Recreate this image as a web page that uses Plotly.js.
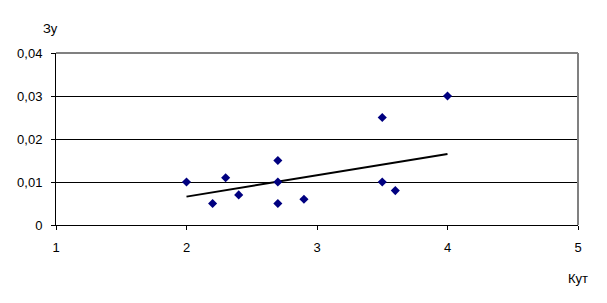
<!DOCTYPE html>
<html><head><meta charset="utf-8">
<script src="https://cdn.plot.ly/plotly-3.0.1.min.js"></script>
<style>html,body{margin:0;padding:0;background:#fff}#c{width:607px;height:303px}</style>
</head><body><div id="c"></div>
<script>
const kut = [2, 2.2, 2.3, 2.4, 2.7, 2.7, 2.7, 2.9, 3.5, 3.5, 3.6, 4];
const zu = [0.010, 0.005, 0.011, 0.007, 0.015, 0.010, 0.005, 0.006, 0.025, 0.010, 0.008, 0.030];
const trendX = [2, 4];
const trendY = [0.0066, 0.0165];
const yTickVals = [0, 0.01, 0.02, 0.03, 0.04];
const yTickText = ["0", "0,01", "0,02", "0,03", "0,04"];
const xTickVals = [1, 2, 3, 4, 5];
const xTickText = ["1", "2", "3", "4", "5"];

const font = {family: "Liberation Sans, Arial, sans-serif", size: 13, color: "#000"};
const data = [
  {x: trendX, y: trendY, mode: "lines", line: {color: "#000", width: 2}, hoverinfo: "skip", showlegend: false},
  {x: kut, y: zu, mode: "markers", marker: {symbol: "diamond", size: 7, color: "#000080"}, showlegend: false}
];
const layout = {
  width: 607, height: 303,
  margin: {l: 56, r: 29, t: 53, b: 78},
  paper_bgcolor: "#fff", plot_bgcolor: "#fff",
  font: font,
  showlegend: false,
  xaxis: {range: [1, 5], tickvals: xTickVals, ticktext: xTickText, ticks: "outside", ticklen: 4, tickcolor: "#000",
          ticklabelstandoff: 6,
          showgrid: false, zeroline: false, showline: true, linecolor: "#000", linewidth: 1, mirror: false, fixedrange: true},
  yaxis: {range: [0, 0.04], tickvals: yTickVals, ticktext: yTickText, ticks: "outside", ticklen: 4, tickcolor: "#000",
          ticklabelstandoff: 6,
          showgrid: true, gridcolor: "#000", gridwidth: 1, zeroline: false, showline: true, linecolor: "#000", linewidth: 1, fixedrange: true},
  shapes: [
    {type: "line", xref: "paper", yref: "paper", x0: 0, x1: 1, y0: 1, y1: 1, line: {color: "#808080", width: 2}},
    {type: "line", xref: "paper", yref: "paper", x0: 1, x1: 1, y0: 0, y1: 1, line: {color: "#808080", width: 2}}
  ],
  annotations: [
    {text: "Зу", xref: "paper", yref: "paper", x: -0.01, y: 1, yshift: 15, showarrow: false, xanchor: "center", yanchor: "bottom", font: font},
    {text: "Кут", xref: "paper", yref: "paper", x: 1, y: 0, yshift: -44, showarrow: false, xanchor: "center", yanchor: "top", font: font}
  ]
};
Plotly.newPlot("c", data, layout, {staticPlot: true});
</script></body></html>
